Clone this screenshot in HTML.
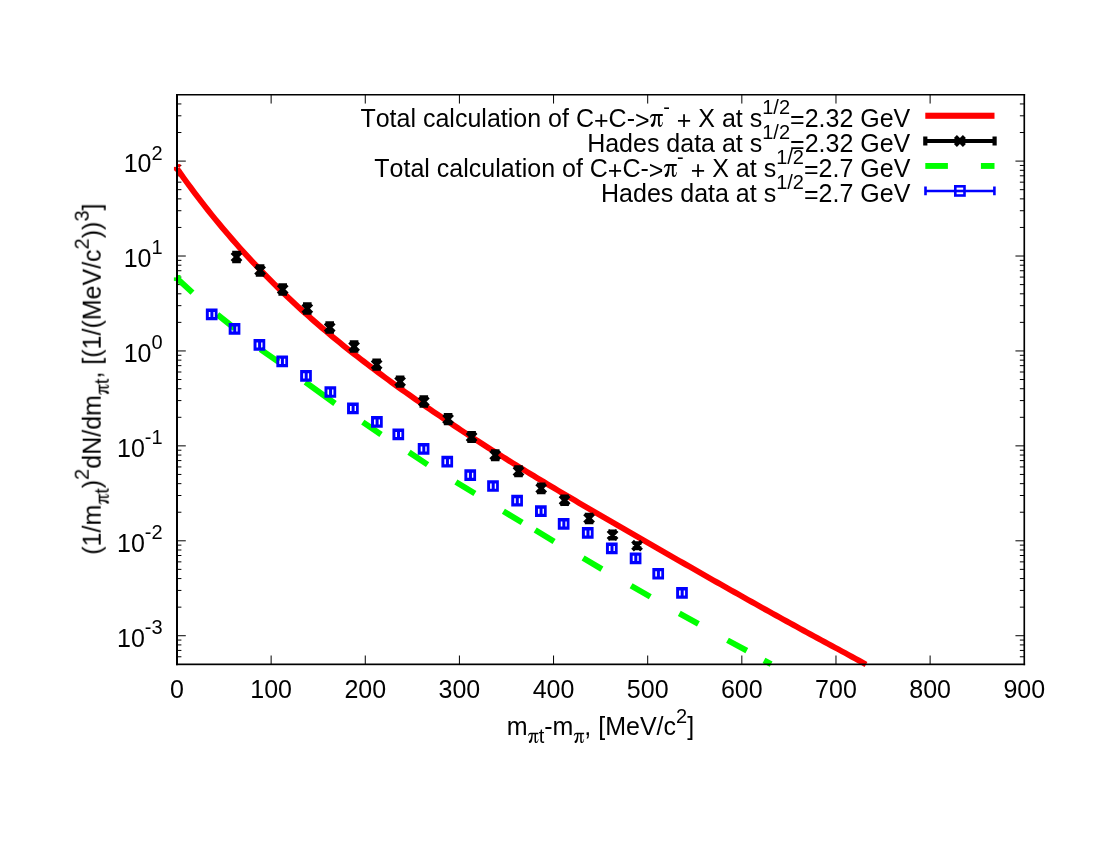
<!DOCTYPE html><html><head><meta charset="utf-8"><style>html,body{margin:0;padding:0;background:#fff}</style></head><body><svg width="1100" height="850" viewBox="0 0 1100 850" style="display:block">
<rect width="1100" height="850" fill="#fff"/>
<path d="M271.14 664.30v-8.8M271.14 94.75v8.8M365.28 664.30v-8.8M365.28 94.75v8.8M459.42 664.30v-8.8M459.42 94.75v8.8M553.56 664.30v-8.8M553.56 94.75v8.8M647.69 664.30v-8.8M647.69 94.75v8.8M741.83 664.30v-8.8M741.83 94.75v8.8M835.97 664.30v-8.8M835.97 94.75v8.8M930.11 664.30v-8.8M930.11 94.75v8.8M177.00 656.78h4.4M1024.25 656.78h-4.4M177.00 650.43h4.4M1024.25 650.43h-4.4M177.00 644.92h4.4M1024.25 644.92h-4.4M177.00 640.07h4.4M1024.25 640.07h-4.4M177.00 635.72h8.8M1024.25 635.72h-8.8M177.00 607.15h4.4M1024.25 607.15h-4.4M177.00 590.43h4.4M1024.25 590.43h-4.4M177.00 578.57h4.4M1024.25 578.57h-4.4M177.00 569.37h4.4M1024.25 569.37h-4.4M177.00 561.86h4.4M1024.25 561.86h-4.4M177.00 555.50h4.4M1024.25 555.50h-4.4M177.00 550.00h4.4M1024.25 550.00h-4.4M177.00 545.14h4.4M1024.25 545.14h-4.4M177.00 540.80h8.8M1024.25 540.80h-8.8M177.00 512.22h4.4M1024.25 512.22h-4.4M177.00 495.51h4.4M1024.25 495.51h-4.4M177.00 483.65h4.4M1024.25 483.65h-4.4M177.00 474.45h4.4M1024.25 474.45h-4.4M177.00 466.93h4.4M1024.25 466.93h-4.4M177.00 460.58h4.4M1024.25 460.58h-4.4M177.00 455.07h4.4M1024.25 455.07h-4.4M177.00 450.22h4.4M1024.25 450.22h-4.4M177.00 445.87h8.8M1024.25 445.87h-8.8M177.00 417.30h4.4M1024.25 417.30h-4.4M177.00 400.58h4.4M1024.25 400.58h-4.4M177.00 388.72h4.4M1024.25 388.72h-4.4M177.00 379.52h4.4M1024.25 379.52h-4.4M177.00 372.01h4.4M1024.25 372.01h-4.4M177.00 365.65h4.4M1024.25 365.65h-4.4M177.00 360.15h4.4M1024.25 360.15h-4.4M177.00 355.29h4.4M1024.25 355.29h-4.4M177.00 350.95h8.8M1024.25 350.95h-8.8M177.00 322.37h4.4M1024.25 322.37h-4.4M177.00 305.66h4.4M1024.25 305.66h-4.4M177.00 293.80h4.4M1024.25 293.80h-4.4M177.00 284.60h4.4M1024.25 284.60h-4.4M177.00 277.08h4.4M1024.25 277.08h-4.4M177.00 270.73h4.4M1024.25 270.73h-4.4M177.00 265.22h4.4M1024.25 265.22h-4.4M177.00 260.37h4.4M1024.25 260.37h-4.4M177.00 256.02h8.8M1024.25 256.02h-8.8M177.00 227.45h4.4M1024.25 227.45h-4.4M177.00 210.73h4.4M1024.25 210.73h-4.4M177.00 198.87h4.4M1024.25 198.87h-4.4M177.00 189.67h4.4M1024.25 189.67h-4.4M177.00 182.16h4.4M1024.25 182.16h-4.4M177.00 175.80h4.4M1024.25 175.80h-4.4M177.00 170.30h4.4M1024.25 170.30h-4.4M177.00 165.44h4.4M1024.25 165.44h-4.4M177.00 161.10h8.8M1024.25 161.10h-8.8M177.00 132.52h4.4M1024.25 132.52h-4.4M177.00 115.81h4.4M1024.25 115.81h-4.4M177.00 103.95h4.4M1024.25 103.95h-4.4" stroke="#000" stroke-width="1" fill="none"/>
<polyline points="177.00,168.58 180.46,173.50 183.92,178.35 187.39,183.13 190.85,187.84 194.31,192.47 197.77,197.05 201.24,201.55 204.70,206.00 208.16,210.38 211.62,214.70 215.09,218.97 218.55,223.18 222.01,227.33 225.47,231.44 228.93,235.48 232.40,239.48 235.86,243.43 239.32,247.33 242.78,251.17 246.25,254.97 249.71,258.73 253.17,262.44 256.63,266.10 260.10,269.72 263.56,273.30 267.02,276.83 270.48,280.32 273.94,283.78 277.41,287.19 280.87,290.56 284.33,293.89 287.79,297.19 291.26,300.44 294.72,303.66 298.18,306.85 301.64,310.00 305.11,313.12 308.57,316.20 312.03,319.25 315.49,322.27 318.95,325.26 322.42,328.22 325.88,331.15 329.34,334.05 332.80,336.93 336.27,339.77 339.73,342.59 343.19,345.39 346.65,348.16 350.12,350.91 353.58,353.63 357.04,356.33 360.50,359.01 363.96,361.67 367.43,364.31 370.89,366.93 374.35,369.53 377.81,372.11 381.28,374.68 384.74,377.23 388.20,379.77 391.66,382.29 395.13,384.80 398.59,387.29 402.05,389.78 405.51,392.24 408.97,394.70 412.44,397.14 415.90,399.57 419.36,401.98 422.82,404.38 426.29,406.78 429.75,409.15 433.21,411.52 436.67,413.88 440.14,416.22 443.60,418.55 447.06,420.87 450.52,423.18 453.98,425.48 457.45,427.77 460.91,430.05 464.37,432.32 467.83,434.58 471.30,436.83 474.76,439.07 478.22,441.29 481.68,443.51 485.15,445.73 488.61,447.93 492.07,450.12 495.53,452.31 498.99,454.48 502.46,456.65 505.92,458.81 509.38,460.96 512.84,463.11 516.31,465.24 519.77,467.37 523.23,469.50 526.69,471.61 530.16,473.72 533.62,475.83 537.08,477.92 540.54,480.01 544.01,482.10 547.47,484.18 550.93,486.25 554.39,488.32 557.85,490.38 561.32,492.44 564.78,494.49 568.24,496.54 571.70,498.58 575.17,500.62 578.63,502.65 582.09,504.68 585.55,506.71 589.02,508.74 592.48,510.76 595.94,512.77 599.40,514.79 602.86,516.80 606.33,518.81 609.79,520.82 613.25,522.82 616.71,524.82 620.18,526.82 623.64,528.82 627.10,530.82 630.56,532.81 634.03,534.81 637.49,536.80 640.95,538.80 644.41,540.79 647.87,542.78 651.34,544.77 654.80,546.76 658.26,548.75 661.72,550.74 665.19,552.72 668.65,554.71 672.11,556.69 675.57,558.68 679.04,560.66 682.50,562.64 685.96,564.62 689.42,566.60 692.88,568.57 696.35,570.55 699.81,572.52 703.27,574.49 706.73,576.46 710.20,578.43 713.66,580.40 717.12,582.36 720.58,584.32 724.05,586.28 727.51,588.24 730.97,590.19 734.43,592.14 737.89,594.09 741.36,596.04 744.82,597.98 748.28,599.93 751.74,601.86 755.21,603.80 758.67,605.73 762.13,607.67 765.59,609.59 769.06,611.52 772.52,613.44 775.98,615.36 779.44,617.27 782.90,619.19 786.37,621.09 789.83,623.00 793.29,624.90 796.75,626.80 800.22,628.69 803.68,630.58 807.14,632.47 810.60,634.35 814.07,636.23 817.53,638.11 820.99,639.98 824.45,641.85 827.91,643.71 831.38,645.58 834.84,647.44 838.30,649.31 841.76,651.18 845.23,653.05 848.69,654.94 852.15,656.83 855.61,658.73 859.08,660.64 862.54,662.56 866.00,664.49" fill="none" stroke="#f00" stroke-width="5.8" stroke-linejoin="round"/>
<rect x="173.95" y="166.9" width="3" height="3.7" fill="#f00"/><rect x="177.5" y="164.1" width="3" height="3" fill="#f00"/>
<path d="M232.00 252.50L241.00 261.50M232.00 261.50L241.00 252.50M236.50 252.70V261.30M232.20 252.70h8.6M232.20 261.30h8.6" stroke="#000" stroke-width="3.9" fill="none"/>
<path d="M255.60 266.00L264.60 275.00M255.60 275.00L264.60 266.00M260.10 266.20V274.80M255.80 266.20h8.6M255.80 274.80h8.6" stroke="#000" stroke-width="3.9" fill="none"/>
<path d="M278.20 284.95L287.20 293.95M278.20 293.95L287.20 284.95M282.70 285.15V293.75M278.40 285.15h8.6M278.40 293.75h8.6" stroke="#000" stroke-width="3.9" fill="none"/>
<path d="M302.80 304.05L311.80 313.05M302.80 313.05L311.80 304.05M307.30 304.25V312.85M303.00 304.25h8.6M303.00 312.85h8.6" stroke="#000" stroke-width="3.9" fill="none"/>
<path d="M325.20 323.00L334.20 332.00M325.20 332.00L334.20 323.00M329.70 323.20V331.80M325.40 323.20h8.6M325.40 331.80h8.6" stroke="#000" stroke-width="3.9" fill="none"/>
<path d="M349.60 342.05L358.60 351.05M349.60 351.05L358.60 342.05M354.10 342.25V350.85M349.80 342.25h8.6M349.80 350.85h8.6" stroke="#000" stroke-width="3.9" fill="none"/>
<path d="M372.15 360.10L381.15 369.10M372.15 369.10L381.15 360.10M376.65 360.35V368.85M372.35 360.35h8.6M372.35 368.85h8.6" stroke="#000" stroke-width="3.9" fill="none"/>
<path d="M395.60 377.20L404.60 386.20M395.60 386.20L404.60 377.20M400.10 377.50V385.90M395.80 377.50h8.6M395.80 385.90h8.6" stroke="#000" stroke-width="3.9" fill="none"/>
<path d="M419.30 397.00L428.30 406.00M419.30 406.00L428.30 397.00M423.80 397.30V405.70M419.50 397.30h8.6M419.50 405.70h8.6" stroke="#000" stroke-width="3.9" fill="none"/>
<path d="M443.60 414.60L452.60 423.60M443.60 423.60L452.60 414.60M448.10 415.00V423.20M443.80 415.00h8.6M443.80 423.20h8.6" stroke="#000" stroke-width="3.9" fill="none"/>
<path d="M467.10 432.50L476.10 441.50M467.10 441.50L476.10 432.50M471.60 432.90V441.10M467.30 432.90h8.6M467.30 441.10h8.6" stroke="#000" stroke-width="3.9" fill="none"/>
<path d="M490.70 450.70L499.70 459.70M490.70 459.70L499.70 450.70M495.20 451.20V459.20M490.90 451.20h8.6M490.90 459.20h8.6" stroke="#000" stroke-width="3.9" fill="none"/>
<path d="M514.00 466.80L523.00 475.80M514.00 475.80L523.00 466.80M518.50 467.30V475.30M514.20 467.30h8.6M514.20 475.30h8.6" stroke="#000" stroke-width="3.9" fill="none"/>
<path d="M536.70 483.90L545.70 492.90M536.70 492.90L545.70 483.90M541.20 484.50V492.30M536.90 484.50h8.6M536.90 492.30h8.6" stroke="#000" stroke-width="3.9" fill="none"/>
<path d="M560.10 495.75L569.10 504.75M560.10 504.75L569.10 495.75M564.60 496.45V504.05M560.30 496.45h8.6M560.30 504.05h8.6" stroke="#000" stroke-width="3.9" fill="none"/>
<path d="M584.60 513.95L593.60 522.95M584.60 522.95L593.60 513.95M589.10 514.65V522.25M584.80 514.65h8.6M584.80 522.25h8.6" stroke="#000" stroke-width="3.9" fill="none"/>
<path d="M608.05 530.50L617.05 539.50M608.05 539.50L617.05 530.50M612.55 531.40V538.60M608.25 531.40h8.6M608.25 538.60h8.6" stroke="#000" stroke-width="3.9" fill="none"/>
<path d="M632.55 541.20L641.55 550.20M632.55 550.20L641.55 541.20M637.05 543.10V548.30M632.75 543.10h8.6M632.75 548.30h8.6" stroke="#000" stroke-width="3.9" fill="none"/>
<path d="M177.00 278.40L192.47 292.66M217.46 314.65L234.70 328.40M260.50 349.30L278.50 361.90M305.40 382.05L335.00 403.50M362.80 422.10L381.05 434.53M409.00 452.20L427.60 464.60M455.90 482.10L474.90 493.60M503.40 511.20L522.15 522.60M535.20 530.05L554.10 541.55M583.10 557.95L601.90 569.10M631.10 585.80L650.30 596.70M679.30 613.30L698.40 623.90M727.50 640.25L746.80 650.70M764.00 660.30L771.10 664.15" fill="none" stroke="#0f0" stroke-width="5.9"/>
<rect x="173.9" y="277.4" width="3" height="3.5" fill="#0f0"/><rect x="177.5" y="275" width="3" height="3" fill="#0f0"/>
<path d="M205.85 308.56h11.7v11.7h-11.7zM208.80 311.96v5.1h1.6v-5.1zM213.40 311.96v5.1h1.4v-5.1zM228.68 323.05h11.7v11.7h-11.7zM231.63 326.45v5.1h1.6v-5.1zM236.23 326.45v5.1h1.4v-5.1zM253.55 339.09h11.7v11.7h-11.7zM256.50 342.49v5.1h1.6v-5.1zM261.10 342.49v5.1h1.4v-5.1zM276.35 355.45h11.7v11.7h-11.7zM279.30 358.85v5.1h1.6v-5.1zM283.90 358.85v5.1h1.4v-5.1zM300.15 369.95h11.7v11.7h-11.7zM303.10 373.35v5.1h1.6v-5.1zM307.70 373.35v5.1h1.4v-5.1zM324.50 386.15h11.7v11.7h-11.7zM327.45 389.55v5.1h1.6v-5.1zM332.05 389.55v5.1h1.4v-5.1zM347.05 402.50h11.7v11.7h-11.7zM350.00 405.90v5.1h1.6v-5.1zM354.60 405.90v5.1h1.4v-5.1zM371.05 416.12h11.7v11.7h-11.7zM374.00 419.52v5.1h1.6v-5.1zM378.60 419.52v5.1h1.4v-5.1zM392.45 428.55h11.7v11.7h-11.7zM395.40 431.95v5.1h1.6v-5.1zM400.00 431.95v5.1h1.4v-5.1zM417.75 443.09h11.7v11.7h-11.7zM420.70 446.49v5.1h1.6v-5.1zM425.30 446.49v5.1h1.4v-5.1zM441.40 455.75h11.7v11.7h-11.7zM444.35 459.15v5.1h1.6v-5.1zM448.95 459.15v5.1h1.4v-5.1zM464.38 469.23h11.7v11.7h-11.7zM467.33 472.63v5.1h1.6v-5.1zM471.93 472.63v5.1h1.4v-5.1zM487.15 480.15h11.7v11.7h-11.7zM490.10 483.55v5.1h1.6v-5.1zM494.70 483.55v5.1h1.4v-5.1zM511.25 494.75h11.7v11.7h-11.7zM514.20 498.15v5.1h1.6v-5.1zM518.80 498.15v5.1h1.4v-5.1zM535.00 505.25h11.7v11.7h-11.7zM537.95 508.65v5.1h1.6v-5.1zM542.55 508.65v5.1h1.4v-5.1zM557.80 518.11h11.7v11.7h-11.7zM560.75 521.51v5.1h1.6v-5.1zM565.35 521.51v5.1h1.4v-5.1zM581.90 527.08h11.7v11.7h-11.7zM584.85 530.48v5.1h1.6v-5.1zM589.45 530.48v5.1h1.4v-5.1zM605.95 542.55h11.7v11.7h-11.7zM608.90 545.95v5.1h1.6v-5.1zM613.50 545.95v5.1h1.4v-5.1zM629.75 552.45h11.7v11.7h-11.7zM632.70 555.85v5.1h1.6v-5.1zM637.30 555.85v5.1h1.4v-5.1zM652.35 567.90h11.7v11.7h-11.7zM655.30 571.30v5.1h1.6v-5.1zM659.90 571.30v5.1h1.4v-5.1zM676.13 587.10h11.7v11.7h-11.7zM679.08 590.50v5.1h1.6v-5.1zM683.68 590.50v5.1h1.4v-5.1z" fill="#00f" fill-rule="evenodd"/>
<rect x="176" y="94" width="2" height="571.2" fill="#000"/>
<rect x="1023.45" y="94" width="1.65" height="571.2" fill="#000"/>
<rect x="176" y="94" width="849.1" height="1.5" fill="#000"/>
<rect x="176" y="663.5" width="849.1" height="1.7" fill="#000"/>
<rect x="925.3" y="112.7" width="69.2" height="6.1" fill="#f00"/>
<path d="M925.3 141H994.6M925.3 136.6V145.4M994.6 136.6V145.4" stroke="#000" stroke-width="4.2" fill="none"/>
<path d="M955.40 136.40L964.40 145.40M955.40 145.40L964.40 136.40" stroke="#000" stroke-width="4.2" fill="none"/>
<rect x="925.3" y="163" width="22.6" height="5.9" fill="#0f0"/>
<rect x="980.9" y="163" width="13.6" height="5.9" fill="#0f0"/>
<path d="M925.5 191H994.4M925.5 186.5V195.3M994.4 186.5V195.3" stroke="#00f" stroke-width="2.6" fill="none"/>
<rect x="955.3" y="186.3" width="9.2" height="9.2" stroke="#00f" stroke-width="2.6" fill="#fff"/>
<path d="M955 191H965" stroke="#00f" stroke-width="2.6" fill="none"/>
<g font-family="Liberation Sans, sans-serif" font-size="25" fill="#000" style="font-kerning:none" opacity="0.999">
<text x="177.00" y="697.7" text-anchor="middle">0</text>
<text x="271.14" y="697.7" text-anchor="middle">100</text>
<text x="365.28" y="697.7" text-anchor="middle">200</text>
<text x="459.42" y="697.7" text-anchor="middle">300</text>
<text x="553.56" y="697.7" text-anchor="middle">400</text>
<text x="647.69" y="697.7" text-anchor="middle">500</text>
<text x="741.83" y="697.7" text-anchor="middle">600</text>
<text x="835.97" y="697.7" text-anchor="middle">700</text>
<text x="930.11" y="697.7" text-anchor="middle">800</text>
<text x="1024.25" y="697.7" text-anchor="middle">900</text>
<text x="116.99" y="646.72" font-size="25" xml:space="preserve">10</text>
<text x="144.80" y="634.12" font-size="20" xml:space="preserve">-3</text>
<text x="116.99" y="551.80" font-size="25" xml:space="preserve">10</text>
<text x="144.80" y="539.20" font-size="20" xml:space="preserve">-2</text>
<text x="116.99" y="456.87" font-size="25" xml:space="preserve">10</text>
<text x="144.80" y="444.27" font-size="20" xml:space="preserve">-1</text>
<text x="123.66" y="361.95" font-size="25" xml:space="preserve">10</text>
<text x="151.47" y="349.35" font-size="20" xml:space="preserve">0</text>
<text x="123.66" y="267.02" font-size="25" xml:space="preserve">10</text>
<text x="151.47" y="254.42" font-size="20" xml:space="preserve">1</text>
<text x="123.66" y="172.10" font-size="25" xml:space="preserve">10</text>
<text x="151.47" y="159.50" font-size="20" xml:space="preserve">2</text>
<text x="360.40" y="126.60" font-size="25" dy="0 0 0 0 0 0 0 0 0 0 0 0 0 0 0 0 0 0 0 0 0 0 2.3 -2.3 0 2.3" xml:space="preserve">Total calculation of C+C-&gt;</text>
<path transform="translate(649.73,126.60) scale(1.000)" d="M0.1,-8.8C0.5,-11.2 1.6,-12.65 3.4,-12.65L13.1,-12.65L13.1,-10.65L10.1,-10.65L10.1,-3.2C10.1,-1.9 10.4,-1.3 11,-1.3C11.8,-1.3 12.4,-2.6 12.7,-4.6L13.2,-4.5C13,-1.6 12,0.3 10.4,0.3C8.9,0.3 8.2,-0.8 8.2,-3L8.2,-10.65L6,-10.65C5.9,-6.8 5.5,-3.9 4.8,-1.8C4.3,-0.4 3.6,0.3 2.6,0.3C1.7,0.3 1.1,-0.4 1.1,-1.3C1.1,-2.4 2,-2.6 2.7,-3.6C3.6,-5 4.2,-7.6 4.4,-10.65L3.7,-10.65C2.3,-10.65 1.3,-10.1 0.6,-8.6Z"/>
<text x="663.16" y="113.60" font-size="20" xml:space="preserve">-</text>
<text x="669.83" y="126.60" font-size="25" dy="0 2.3 -2.3" xml:space="preserve"> + X at s</text>
<text x="762.25" y="113.60" font-size="20" xml:space="preserve">1/2</text>
<text x="790.07" y="126.60" font-size="25" dy="1.5 -1.5" xml:space="preserve">=2.32 GeV</text>
<text x="587.13" y="151.70" font-size="25" xml:space="preserve">Hades data at s</text>
<text x="762.25" y="138.70" font-size="20" xml:space="preserve">1/2</text>
<text x="790.07" y="151.70" font-size="25" dy="1.5 -1.5" xml:space="preserve">=2.32 GeV</text>
<text x="374.31" y="176.70" font-size="25" dy="0 0 0 0 0 0 0 0 0 0 0 0 0 0 0 0 0 0 0 0 0 0 2.3 -2.3 0 2.3" xml:space="preserve">Total calculation of C+C-&gt;</text>
<path transform="translate(663.64,176.70) scale(1.000)" d="M0.1,-8.8C0.5,-11.2 1.6,-12.65 3.4,-12.65L13.1,-12.65L13.1,-10.65L10.1,-10.65L10.1,-3.2C10.1,-1.9 10.4,-1.3 11,-1.3C11.8,-1.3 12.4,-2.6 12.7,-4.6L13.2,-4.5C13,-1.6 12,0.3 10.4,0.3C8.9,0.3 8.2,-0.8 8.2,-3L8.2,-10.65L6,-10.65C5.9,-6.8 5.5,-3.9 4.8,-1.8C4.3,-0.4 3.6,0.3 2.6,0.3C1.7,0.3 1.1,-0.4 1.1,-1.3C1.1,-2.4 2,-2.6 2.7,-3.6C3.6,-5 4.2,-7.6 4.4,-10.65L3.7,-10.65C2.3,-10.65 1.3,-10.1 0.6,-8.6Z"/>
<text x="677.07" y="163.70" font-size="20" xml:space="preserve">-</text>
<text x="683.74" y="176.70" font-size="25" dy="0 2.3 -2.3" xml:space="preserve"> + X at s</text>
<text x="776.16" y="163.70" font-size="20" xml:space="preserve">1/2</text>
<text x="803.97" y="176.70" font-size="25" dy="1.5 -1.5" xml:space="preserve">=2.7 GeV</text>
<text x="601.03" y="201.90" font-size="25" xml:space="preserve">Hades data at s</text>
<text x="776.16" y="188.90" font-size="20" xml:space="preserve">1/2</text>
<text x="803.97" y="201.90" font-size="25" dy="1.5 -1.5" xml:space="preserve">=2.7 GeV</text>
<text x="506.86" y="735.20" font-size="25" xml:space="preserve">m</text>
<path transform="translate(527.93,742.80) scale(0.800)" d="M0.1,-8.8C0.5,-11.2 1.6,-12.65 3.4,-12.65L13.1,-12.65L13.1,-10.65L10.1,-10.65L10.1,-3.2C10.1,-1.9 10.4,-1.3 11,-1.3C11.8,-1.3 12.4,-2.6 12.7,-4.6L13.2,-4.5C13,-1.6 12,0.3 10.4,0.3C8.9,0.3 8.2,-0.8 8.2,-3L8.2,-10.65L6,-10.65C5.9,-6.8 5.5,-3.9 4.8,-1.8C4.3,-0.4 3.6,0.3 2.6,0.3C1.7,0.3 1.1,-0.4 1.1,-1.3C1.1,-2.4 2,-2.6 2.7,-3.6C3.6,-5 4.2,-7.6 4.4,-10.65L3.7,-10.65C2.3,-10.65 1.3,-10.1 0.6,-8.6Z"/>
<text x="538.67" y="742.80" font-size="20" xml:space="preserve">t</text>
<text x="544.23" y="735.20" font-size="25" xml:space="preserve">-m</text>
<path transform="translate(573.63,742.80) scale(0.800)" d="M0.1,-8.8C0.5,-11.2 1.6,-12.65 3.4,-12.65L13.1,-12.65L13.1,-10.65L10.1,-10.65L10.1,-3.2C10.1,-1.9 10.4,-1.3 11,-1.3C11.8,-1.3 12.4,-2.6 12.7,-4.6L13.2,-4.5C13,-1.6 12,0.3 10.4,0.3C8.9,0.3 8.2,-0.8 8.2,-3L8.2,-10.65L6,-10.65C5.9,-6.8 5.5,-3.9 4.8,-1.8C4.3,-0.4 3.6,0.3 2.6,0.3C1.7,0.3 1.1,-0.4 1.1,-1.3C1.1,-2.4 2,-2.6 2.7,-3.6C3.6,-5 4.2,-7.6 4.4,-10.65L3.7,-10.65C2.3,-10.65 1.3,-10.1 0.6,-8.6Z"/>
<text x="584.37" y="735.20" font-size="25" xml:space="preserve">, [MeV/c</text>
<text x="676.06" y="722.80" font-size="20" xml:space="preserve">2</text>
<text x="687.18" y="735.20" font-size="25" xml:space="preserve">]</text>
<g transform="translate(100.7,554.71) rotate(-90)">
<text x="0.00" y="0.00" font-size="25" xml:space="preserve">(1/m</text>
<path transform="translate(50.24,8.00) scale(0.800)" d="M0.1,-8.8C0.5,-11.2 1.6,-12.65 3.4,-12.65L13.1,-12.65L13.1,-10.65L10.1,-10.65L10.1,-3.2C10.1,-1.9 10.4,-1.3 11,-1.3C11.8,-1.3 12.4,-2.6 12.7,-4.6L13.2,-4.5C13,-1.6 12,0.3 10.4,0.3C8.9,0.3 8.2,-0.8 8.2,-3L8.2,-10.65L6,-10.65C5.9,-6.8 5.5,-3.9 4.8,-1.8C4.3,-0.4 3.6,0.3 2.6,0.3C1.7,0.3 1.1,-0.4 1.1,-1.3C1.1,-2.4 2,-2.6 2.7,-3.6C3.6,-5 4.2,-7.6 4.4,-10.65L3.7,-10.65C2.3,-10.65 1.3,-10.1 0.6,-8.6Z"/>
<text x="60.98" y="8.00" font-size="20" xml:space="preserve">t</text>
<text x="66.54" y="0.00" font-size="25" xml:space="preserve">)</text>
<text x="74.87" y="-12.30" font-size="20" xml:space="preserve">2</text>
<text x="86.00" y="0.00" font-size="25" xml:space="preserve">dN/dm</text>
<path transform="translate(159.88,8.00) scale(0.800)" d="M0.1,-8.8C0.5,-11.2 1.6,-12.65 3.4,-12.65L13.1,-12.65L13.1,-10.65L10.1,-10.65L10.1,-3.2C10.1,-1.9 10.4,-1.3 11,-1.3C11.8,-1.3 12.4,-2.6 12.7,-4.6L13.2,-4.5C13,-1.6 12,0.3 10.4,0.3C8.9,0.3 8.2,-0.8 8.2,-3L8.2,-10.65L6,-10.65C5.9,-6.8 5.5,-3.9 4.8,-1.8C4.3,-0.4 3.6,0.3 2.6,0.3C1.7,0.3 1.1,-0.4 1.1,-1.3C1.1,-2.4 2,-2.6 2.7,-3.6C3.6,-5 4.2,-7.6 4.4,-10.65L3.7,-10.65C2.3,-10.65 1.3,-10.1 0.6,-8.6Z"/>
<text x="170.62" y="8.00" font-size="20" xml:space="preserve">t</text>
<text x="176.18" y="0.00" font-size="25" xml:space="preserve">, [(1/(MeV/c</text>
<text x="305.37" y="-12.30" font-size="20" xml:space="preserve">2</text>
<text x="316.49" y="0.00" font-size="25" xml:space="preserve">))</text>
<text x="333.15" y="-12.30" font-size="20" xml:space="preserve">3</text>
<text x="344.27" y="0.00" font-size="25" xml:space="preserve">]</text>
</g>
</g>
</svg></body></html>
